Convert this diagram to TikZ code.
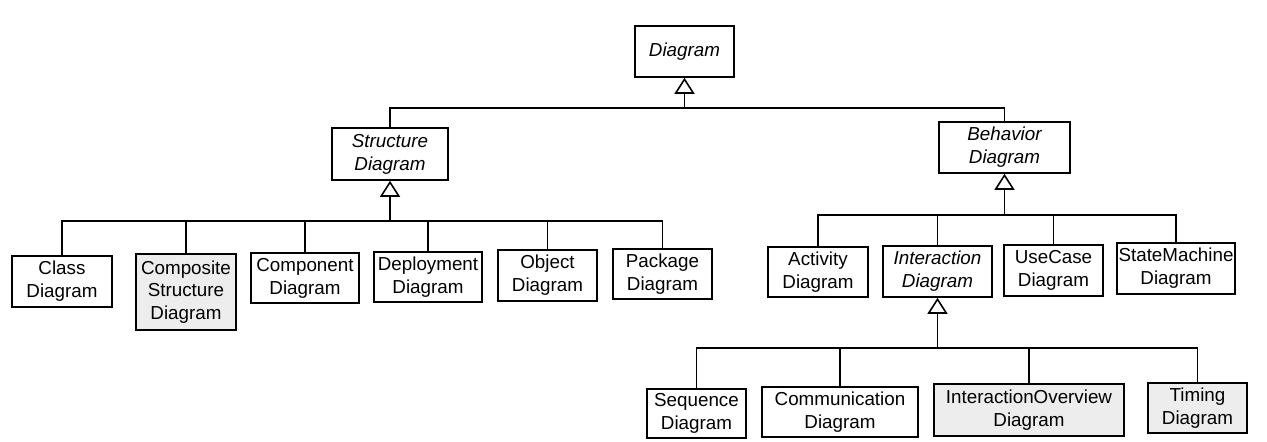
\documentclass[tikz,border=0pt]{standalone}
\usepackage{fontspec}
\setmainfont{Liberation Sans}
\usetikzlibrary{arrows.meta}
\usetikzlibrary{calc}

\tikzset{
  cls/.style={draw, line width=0.9pt, align=center, inner sep=1pt,
    font=\fontsize{10.7}{13}\selectfont},
  abscls/.style={cls, font=\fontsize{10.7}{13}\selectfont\itshape},
  newcls/.style={cls, fill=black!7},
  link/.style={line width=1pt},
  gen/.style={link, -{Triangle[open, length=0.32cm, width=0.4cm, line width=0.9pt]}},
}

\begin{document}
\begin{tikzpicture}[x=0.02cm, y=-0.02cm]
  \useasboundingbox (0,0) rectangle (1267,441);

  % top level
  \node[abscls, minimum width=1.98cm, minimum height=1.02cm] (dia) at (684.5,51.5) {Diagram};
  \node[abscls, minimum width=2.32cm, minimum height=1.04cm] (stru) at (390,154) {Structure\\Diagram};
  \node[abscls, minimum width=2.62cm, minimum height=1.02cm] (beh) at (1004.5,147.5) {Behavior\\Diagram};

  % structure diagrams
  \node[cls, minimum width=2.00cm, minimum height=1.02cm] (classd) at (62,281.5) {Class\\Diagram};
  \node[newcls, minimum width=2.00cm, minimum height=1.52cm] (compstr) at (186,292) {Composite\\Structure\\Diagram};
  \node[cls, minimum width=2.16cm, minimum height=1.00cm] (compo) at (305,278) {Component\\Diagram};
  \node[cls, minimum width=2.16cm, minimum height=1.00cm] (deploy) at (428,277) {Deployment\\Diagram};
  \node[cls, minimum width=1.98cm, minimum height=1.02cm] (objd) at (547.5,275.5) {Object\\Diagram};
  \node[cls, minimum width=1.98cm, minimum height=1.00cm] (pack) at (662.5,274) {Package\\Diagram};

  % behavior diagrams
  \node[cls, minimum width=2.00cm, minimum height=1.00cm] (activ) at (818,272) {Activity\\Diagram};
  \node[abscls, minimum width=2.18cm, minimum height=1.02cm] (inter) at (937.5,271.5) {Interaction\\Diagram};
  \node[cls, minimum width=1.98cm, minimum height=1.02cm] (usecase) at (1053.5,270.5) {UseCase\\Diagram};
  \node[cls, minimum width=2.28cm, minimum height=1.02cm] (statem) at (1176,268.5) {StateMachine\\Diagram};

  % interaction diagrams
  \node[cls, minimum width=1.98cm, minimum height=0.98cm] (seq) at (696.5,413.5) {Sequence\\Diagram};
  \node[cls, minimum width=3.12cm, minimum height=1.00cm] (comm) at (840,412) {Communication\\Diagram};
  \node[newcls, minimum width=3.80cm, minimum height=1.04cm] (interov) at (1029,410) {InteractionOverview\\Diagram};
  \node[newcls, minimum width=1.98cm, minimum height=1.00cm] (timing) at (1197.5,408) {Timing\\Diagram};

  % junctions
  \coordinate (diajoin) at (684.5,108);
  \coordinate (strujoin) at (390,221);
  \coordinate (behjoin) at (1004.5,215);
  \coordinate (interjoin) at (937.5,348);

  \draw[gen] (diajoin) -- (dia.south);
  \draw[link] (stru.north) |- (diajoin) -| (beh.north);

  \draw[gen] (strujoin) -- (stru.south);
  \draw[link] (classd.north) |- (strujoin) -| (pack.north);
  \foreach \k in {compstr, compo, deploy, objd}
    \draw[link] (\k.north) -- (\k.north |- strujoin);

  \draw[gen] (behjoin) -- (beh.south);
  \draw[link] (activ.north) |- (behjoin) -| (statem.north);
  \foreach \k in {inter, usecase}
    \draw[link] (\k.north) -- (\k.north |- behjoin);

  \draw[gen] (interjoin) -- (inter.south);
  \draw[link] (seq.north) |- (interjoin) -| (timing.north);
  \foreach \k in {comm, interov}
    \draw[link] (\k.north) -- (\k.north |- interjoin);
\end{tikzpicture}
\end{document}
